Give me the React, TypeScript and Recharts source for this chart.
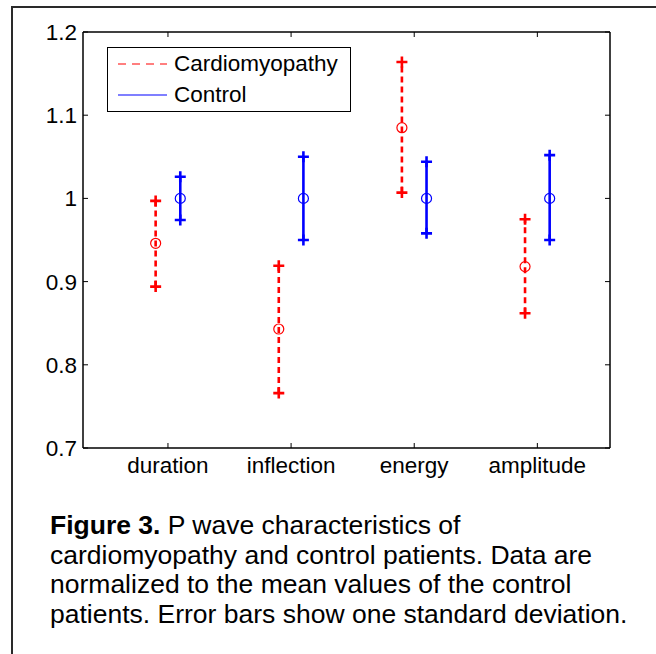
import {
  ErrorBar,
  Legend,
  Scatter,
  ScatterChart,
  XAxis,
  YAxis,
} from 'recharts'

const categories = ['duration', 'inflection', 'energy', 'amplitude']
const cardioMean = [0.946, 0.843, 1.085, 0.918]
const cardioUpper = [0.997, 0.919, 1.164, 0.975]
const cardioLower = [0.894, 0.766, 1.007, 0.862]
const controlMean = [1, 1, 1, 1]
const controlUpper = [1.026, 1.05, 1.044, 1.052]
const controlLower = [0.974, 0.95, 0.958, 0.95]
const yTicks = [0.7, 0.8, 0.9, 1, 1.1, 1.2]
const seriesNames = ['Cardiomyopathy', 'Control']

const RED = '#ff0000'
const BLUE = '#0000ff'
const FONT = '"Liberation Sans", Arial, sans-serif'
const OFFSET = 0.1
const X_DOMAIN = [0.31, 4.59]
const Y_DOMAIN = [0.7, 1.2]

function meanRows(mean: number[], upper: number[], lower: number[], shift: number) {
  return mean.map((m, i) => ({
    x: i + 1 + shift,
    y: m,
    err: [m - lower[i], upper[i] - m],
  }))
}

function endRows(upper: number[], lower: number[], shift: number) {
  return upper.flatMap((u, i) => [
    { x: i + 1 + shift, y: u },
    { x: i + 1 + shift, y: lower[i] },
  ])
}

const cardioData = meanRows(cardioMean, cardioUpper, cardioLower, -OFFSET)
const controlData = meanRows(controlMean, controlUpper, controlLower, OFFSET)
const cardioEnds = endRows(cardioUpper, cardioLower, -OFFSET)
const controlEnds = endRows(controlUpper, controlLower, OFFSET)

const circle = (color: string) => (p: any) => (
  <circle cx={p.cx} cy={p.cy} r={5} fill="none" stroke={color} strokeWidth={1.2} />
)

const plus = (color: string) => (p: any) => (
  <path
    d={`M${p.cx - 5.5},${p.cy}h11M${p.cx},${p.cy - 5.5}v11`}
    stroke={color}
    strokeWidth={2.6}
    fill="none"
  />
)

const tickStyle = { fill: '#000', fontSize: 22.5, fontFamily: FONT }
const frame = { stroke: '#000', strokeWidth: 1.5 }

function LegendBox() {
  return (
    <div
      style={{
        border: '1.5px solid #000',
        background: '#fff',
        width: 244,
        height: 65,
        boxSizing: 'border-box',
        fontFamily: FONT,
        fontSize: 22.5,
        color: '#000',
      }}
    >
      {seriesNames.map((name, i) => (
        <div key={name} style={{ display: 'flex', alignItems: 'center', height: 31 }}>
          <svg width={66} height={20} style={{ flex: 'none' }}>
            <line
              x1={10}
              x2={59}
              y1={10}
              y2={10}
              stroke={i === 0 ? RED : BLUE}
              strokeWidth={1.2}
              strokeDasharray={i === 0 ? '8 6' : undefined}
            />
          </svg>
          <span>{name}</span>
        </div>
      ))}
    </div>
  )
}

export default function App() {
  return (
    <div
      style={{
        position: 'fixed',
        left: 0,
        top: 0,
        width: 656,
        height: 654,
        overflow: 'hidden',
        background: '#fff',
      }}
    >
      <div
        style={{
          position: 'absolute',
          left: 11,
          top: 6,
          width: 900,
          height: 900,
          border: '2px solid #2a2a2a',
        }}
      />
      <div style={{ position: 'absolute', left: 0, top: 0 }}>
        <ScatterChart width={656} height={480} margin={{ top: 31, right: 45, bottom: 2, left: 23 }}>
          <XAxis
            type="number"
            dataKey="x"
            domain={X_DOMAIN}
            ticks={[1, 2, 3, 4]}
            tickFormatter={(v) => categories[Math.round(v) - 1] ?? ''}
            height={30}
            tick={tickStyle}
            tickSize={-5}
            tickMargin={14}
            tickLine={{ stroke: '#000' }}
            axisLine={frame}
            allowDataOverflow
          />
          <XAxis
            xAxisId="t"
            orientation="top"
            type="number"
            dataKey="x"
            domain={X_DOMAIN}
            ticks={[1, 2, 3, 4]}
            tickFormatter={() => ''}
            height={1}
            tickSize={-5}
            tickLine={{ stroke: '#000' }}
            axisLine={frame}
            allowDataOverflow
          />
          <YAxis
            type="number"
            dataKey="y"
            domain={Y_DOMAIN}
            ticks={yTicks}
            tickFormatter={(v) => String(Number(Number(v).toFixed(1)))}
            width={60}
            tick={tickStyle}
            tickSize={-5}
            tickMargin={11}
            tickLine={{ stroke: '#000' }}
            axisLine={frame}
            allowDataOverflow
          />
          <YAxis
            yAxisId="r"
            orientation="right"
            type="number"
            dataKey="y"
            domain={Y_DOMAIN}
            ticks={yTicks}
            tickFormatter={() => ''}
            width={1}
            tickSize={-5}
            tickLine={{ stroke: '#000' }}
            axisLine={frame}
            allowDataOverflow
          />
          <Scatter
            name={seriesNames[0]}
            data={cardioData}
            shape={circle(RED)}
            isAnimationActive={false}
          >
            <ErrorBar
              dataKey="err"
              direction="y"
              width={0}
              stroke={RED}
              strokeWidth={2.6}
              strokeDasharray="6 4"
              isAnimationActive={false}
            />
          </Scatter>
          <Scatter
            name={seriesNames[1]}
            data={controlData}
            shape={circle(BLUE)}
            isAnimationActive={false}
          >
            <ErrorBar
              dataKey="err"
              direction="y"
              width={0}
              stroke={BLUE}
              strokeWidth={2.6}
              isAnimationActive={false}
            />
          </Scatter>
          <Scatter
            data={cardioEnds}
            xAxisId="t"
            yAxisId="r"
            shape={plus(RED)}
            legendType="none"
            isAnimationActive={false}
          />
          <Scatter
            data={controlEnds}
            xAxisId="t"
            yAxisId="r"
            shape={plus(BLUE)}
            legendType="none"
            isAnimationActive={false}
          />
          <Legend
            layout="vertical"
            align="center"
            verticalAlign="middle"
            content={() => <LegendBox />}
            wrapperStyle={{ left: 107, top: 47, width: 244, height: 65 }}
          />
        </ScatterChart>
      </div>
      <div
        style={{
          position: 'absolute',
          left: 50,
          top: 511,
          fontFamily: FONT,
          fontSize: 26.5,
          lineHeight: '29.5px',
          color: '#000',
          whiteSpace: 'nowrap',
        }}
      >
        <b>Figure 3.</b> P wave characteristics of
        <br />
        cardiomyopathy and control patients. Data are
        <br />
        normalized to the mean values of the control
        <br />
        patients. Error bars show one standard deviation.
      </div>
    </div>
  )
}
